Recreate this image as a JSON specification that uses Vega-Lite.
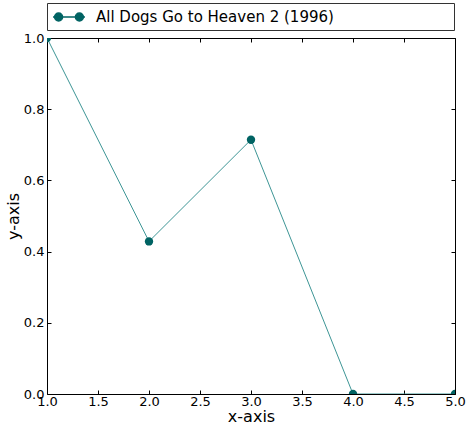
{
  "$schema": "https://vega.github.io/schema/vega-lite/v6.json",
  "width": 408,
  "height": 356,
  "autosize": {"type": "none"},
  "padding": {"left": 47, "top": 38, "right": 11, "bottom": 36},
  "background": "white",
  "config": {
    "font": "DejaVu Sans",
    "view": {"stroke": "black", "strokeWidth": 1},
    "axis": {
      "grid": false,
      "domain": false,
      "tickColor": "black",
      "tickSize": -4,
      "labelFontSize": 13,
      "labelColor": "black",
      "titleFontSize": 16,
      "titleFontWeight": "normal",
      "titleColor": "black",
      "labelPadding": 8
    }
  },
  "data": {
    "values": [
      {"x": 1, "y": 1.0, "series": "All Dogs Go to Heaven 2 (1996)"},
      {"x": 2, "y": 0.4286, "series": "All Dogs Go to Heaven 2 (1996)"},
      {"x": 3, "y": 0.7143, "series": "All Dogs Go to Heaven 2 (1996)"},
      {"x": 4, "y": 0.0, "series": "All Dogs Go to Heaven 2 (1996)"},
      {"x": 5, "y": 0.0, "series": "All Dogs Go to Heaven 2 (1996)"}
    ]
  },
  "resolve": {"axis": {"x": "independent", "y": "independent"}},
  "layer": [
    {
      "mark": {"type": "line", "color": "#3d9595", "strokeWidth": 1, "clip": true},
      "encoding": {
        "x": {"field": "x", "type": "quantitative", "scale": {"domain": [1, 5], "nice": false, "zero": false},
              "axis": {"title": "x-axis", "values": [1, 1.5, 2, 2.5, 3, 3.5, 4, 4.5, 5], "format": ".1f", "labelFlush": false, "titlePadding": 0, "labelPadding": 5}},
        "y": {"field": "y", "type": "quantitative", "scale": {"domain": [0, 1], "nice": false},
              "axis": {"title": "y-axis", "values": [0, 0.2, 0.4, 0.6, 0.8, 1.0], "format": ".1f", "labelFlush": false, "titlePadding": 2, "labelPadding": 7}}
      }
    },
    {
      "mark": {"type": "point", "filled": true, "size": 70, "opacity": 1, "clip": true, "shape": "circle"},
      "encoding": {
        "x": {"field": "x", "type": "quantitative", "scale": {"domain": [1, 5], "nice": false, "zero": false},
              "axis": {"orient": "top", "title": null, "labels": false, "values": [1, 1.5, 2, 2.5, 3, 3.5, 4, 4.5, 5]}},
        "y": {"field": "y", "type": "quantitative", "scale": {"domain": [0, 1], "nice": false},
              "axis": {"orient": "right", "title": null, "labels": false, "values": [0, 0.2, 0.4, 0.6, 0.8, 1.0]}},
        "color": {"field": "series", "type": "nominal", "scale": {"range": ["#006363"]},
          "legend": {
            "title": null,
            "orient": "none",
            "legendX": 0,
            "legendY": -35,
            "strokeColor": "#333333",
            "fillColor": "white",
            "padding": 5,
            "symbolType": "M-2,0L2,0M-1.8,0A0.5,0.5 0 1,0 -0.8,0A0.5,0.5 0 1,0 -1.8,0M0.8,0A0.5,0.5 0 1,0 1.8,0A0.5,0.5 0 1,0 0.8,0",
            "symbolSize": 256,
            "symbolOffset": 8,
            "symbolStrokeColor": "#006363",
            "symbolFillColor": "#006363",
            "symbolStrokeWidth": 1.5,
            "labelFontSize": 15,
            "labelColor": "black",
            "labelOffset": 18,
            "labelLimit": 500,
            "labelExpr": "datum.label + '\u00a0\u2800\u2800\u2800\u2800\u2800\u2800\u2800\u2800\u2800\u2800'"
          }
        }
      }
    }
  ]
}
